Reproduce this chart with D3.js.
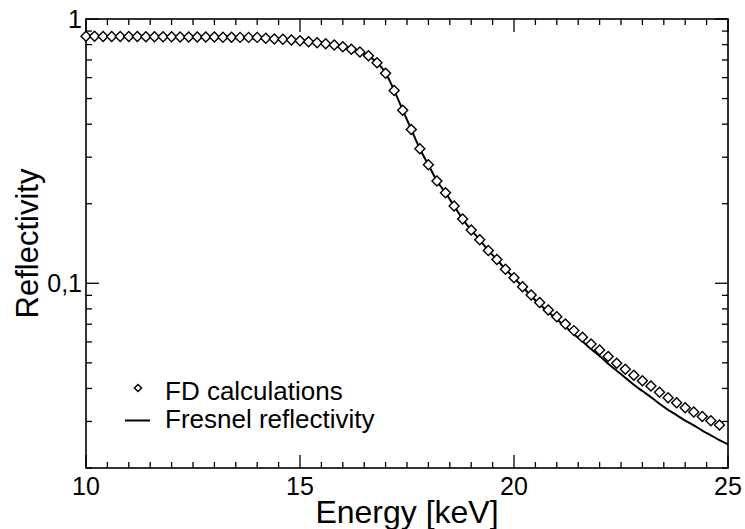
<!DOCTYPE html>
<html><head><meta charset="utf-8">
<script src="https://cdn.jsdelivr.net/npm/d3@7"></script>
<style>body{margin:0;background:#fff}svg{display:block}text{font-family:"Liberation Sans",Arial,sans-serif;fill:#000}</style>
</head><body><svg id="c" width="745" height="529"></svg>
<script>
const fdEnergy = [10.0,10.2,10.4,10.6,10.8,11.0,11.2,11.4,11.6,11.8,12.0,12.2,12.4,12.6,12.8,13.0,13.2,13.4,13.6,13.8,14.0,14.2,14.4,14.6,14.8,15.0,15.2,15.4,15.6,15.8,16.0,16.2,16.4,16.6,16.8,17.0,17.2,17.4,17.6,17.8,18.0,18.2,18.4,18.6,18.8,19.0,19.2,19.4,19.6,19.8,20.0,20.2,20.4,20.6,20.8,21.0,21.2,21.4,21.6,21.8,22.0,22.2,22.4,22.6,22.8,23.0,23.2,23.4,23.6,23.8,24.0,24.2,24.4,24.6,24.8];
const fdValues = [0.860,0.860,0.859,0.859,0.859,0.858,0.858,0.857,0.857,0.856,0.856,0.855,0.855,0.855,0.854,0.854,0.853,0.853,0.852,0.852,0.852,0.845,0.840,0.838,0.833,0.828,0.820,0.813,0.806,0.797,0.786,0.768,0.750,0.726,0.683,0.623,0.536,0.452,0.382,0.323,0.281,0.244,0.220,0.196,0.175,0.159,0.146,0.133,0.123,0.113,0.105,0.097,0.0903,0.0845,0.0793,0.0747,0.0701,0.0662,0.0625,0.0589,0.0559,0.0528,0.0498,0.0473,0.0449,0.0428,0.0409,0.0387,0.0369,0.0353,0.0338,0.0326,0.0313,0.0302,0.0291];
const fresnelEnergy = [10.0,10.4,10.8,11.2,11.6,12.0,12.4,12.8,13.2,13.6,14.0,14.4,14.8,15.2,15.6,16.0,16.2,16.4,16.6,16.8,17.0,17.2,17.4,17.6,17.8,18.0,18.2,18.4,18.6,18.8,19.0,19.2,19.4,19.6,19.8,20.0,20.2,20.4,20.6,20.8,21.0,21.2,21.4,21.6,21.8,22.0,22.2,22.4,22.6,22.8,23.0,23.2,23.4,23.6,23.8,24.0,24.2,24.4,24.6,24.8,25.0];
const fresnelValues = [0.857,0.857,0.856,0.856,0.855,0.854,0.853,0.852,0.850,0.848,0.845,0.840,0.834,0.823,0.808,0.787,0.770,0.750,0.724,0.685,0.625,0.537,0.452,0.382,0.323,0.281,0.244,0.220,0.196,0.175,0.159,0.146,0.133,0.123,0.113,0.105,0.097,0.0895,0.0833,0.0779,0.0731,0.0684,0.0642,0.0603,0.0564,0.0531,0.0496,0.0467,0.0439,0.0413,0.0391,0.0371,0.0350,0.0332,0.0317,0.0302,0.0290,0.0277,0.0266,0.0255,0.0246];
const xTicks = [10,15,20,25];
const yTickLabels = [{v:1,t:"1"},{v:0.1,t:"0,1"}];
const legendLabels = ["FD calculations","Fresnel reflectivity"];

const L=86,R=728,T=19,B=468;
const svg=d3.select("#c");
const x=d3.scaleLinear().domain([10,25]).range([L,R]);
const y=d3.scaleLog().domain([0.02,1]).range([B,T]);

const g=svg.append("g");
const xMinor=d3.range(10,25.001,0.5);
const yMinor=[0.02,0.03,0.04,0.05,0.06,0.07,0.08,0.09,0.2,0.3,0.4,0.5,0.6,0.7,0.8,0.9];
function tick(x1,y1,x2,y2){g.append("line").attr("x1",x1).attr("y1",y1).attr("x2",x2).attr("y2",y2).attr("stroke","#000").attr("stroke-width",1.3);}
xMinor.forEach(v=>{const major=xTicks.includes(Math.round(v*10)/10);const len=major?13:6;tick(x(v),B,x(v),B-len);tick(x(v),T,x(v),T+len);});
yMinor.forEach(v=>{tick(L,y(v),L+6,y(v));tick(R,y(v),R-6,y(v));});
yTickLabels.forEach(d=>{tick(L,y(d.v),L+13,y(d.v));tick(R,y(d.v),R-13,y(d.v));});
g.append("rect").attr("x",L).attr("y",T).attr("width",R-L).attr("height",B-T).attr("fill","none").attr("stroke","#000").attr("stroke-width",1.6);

xTicks.forEach(v=>g.append("text").attr("x",x(v)).attr("y",B+27).attr("text-anchor","middle").attr("font-size",25).text(v));
yTickLabels.forEach(d=>g.append("text").attr("x",L-4).attr("y",y(d.v)+9).attr("text-anchor","end").attr("font-size",25).text(d.t));
g.append("text").attr("x",(L+R)/2).attr("y",523).attr("text-anchor","middle").attr("font-size",32).text("Energy [keV]");
g.append("text").attr("transform",`translate(38,${(T+B)/2}) rotate(-90)`).attr("text-anchor","middle").attr("font-size",31).text("Reflectivity");

svg.append("clipPath").attr("id","cp").append("rect").attr("x",L).attr("y",T).attr("width",R-L).attr("height",B-T);
const line=d3.line().x((d,i)=>x(fresnelEnergy[i])).y(d=>y(d)).curve(d3.curveMonotoneX);
svg.append("path").attr("d",line(fresnelValues)).attr("fill","none").attr("stroke","#000").attr("stroke-width",2).attr("clip-path","url(#cp)");
const sym=d3.symbol().type(d3.symbolSquare).size(50);
svg.append("g").selectAll("path").data(fdValues).join("path")
 .attr("d",sym).attr("transform",(d,i)=>`translate(${x(fdEnergy[i])},${y(d)}) rotate(45)`)
 .attr("fill","#fff").attr("stroke","#000").attr("stroke-width",1.4);

svg.append("path").attr("d",d3.symbol().type(d3.symbolSquare).size(26)()).attr("transform","translate(138,388) rotate(45)").attr("fill","#fff").attr("stroke","#000").attr("stroke-width",1.4);
svg.append("text").attr("x",165).attr("y",400).attr("font-size",26).text(legendLabels[0]);
svg.append("line").attr("x1",125).attr("x2",150).attr("y1",420.5).attr("y2",420.5).attr("stroke","#000").attr("stroke-width",2);
svg.append("text").attr("x",165).attr("y",428).attr("font-size",26).text(legendLabels[1]);
</script></body></html>
